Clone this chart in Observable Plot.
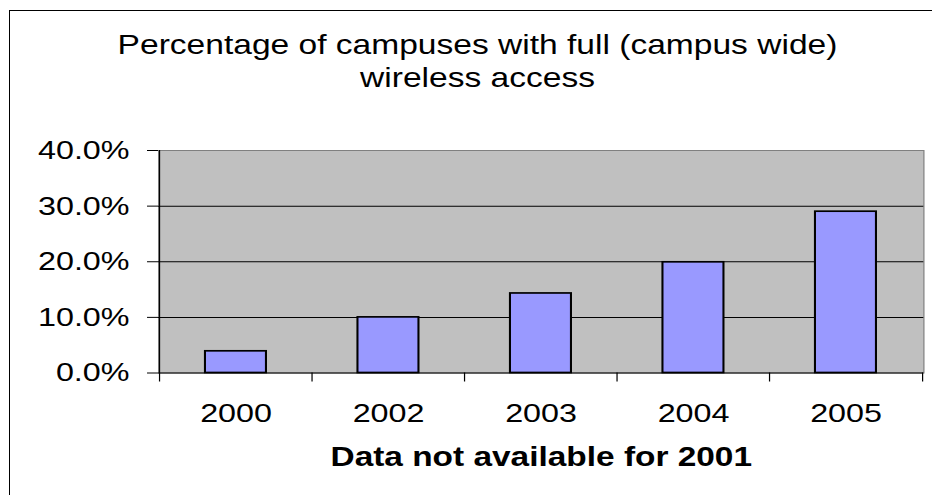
<!DOCTYPE html>
<html><head><meta charset="utf-8">
<script src="https://cdn.jsdelivr.net/npm/d3@7"></script>
<script src="https://cdn.jsdelivr.net/npm/@observablehq/plot@0.6"></script>
<style>
html,body{margin:0;padding:0;background:#fff;overflow:hidden;width:932px;height:495px}
#wrap{position:relative;width:932px;height:495px;font-family:"Liberation Sans",Arial,sans-serif}
#chart{position:absolute;left:0;top:0}
#border{position:absolute;left:9px;top:10px;width:1000px;height:1000px;border:1px solid #000;box-sizing:border-box;pointer-events:none}
#title{position:absolute;left:0;top:28px;width:955px;text-align:center;font-size:27.5px;line-height:33px;color:#000;transform:scaleX(1.22);transform-origin:477.5px 0;white-space:nowrap}
</style></head><body>
<div id="wrap"><div id="chart"></div><div id="border"></div><div id="title">Percentage of campuses with full (campus wide)<br>wireless access</div></div>
<script>
const years = ["2000", "2002", "2003", "2004", "2005"];
const values = [0.039, 0.100, 0.143, 0.199, 0.290];
const yTicks = [0, 0.1, 0.2, 0.3, 0.4];
const gridValues = [0.1, 0.2, 0.3];
const xLabel = "Data not available for 2001";

const S = 1.22, W = 932 / S, H = 495;
const mL = 158 / S, mR = (932 - 923.3) / S, mT = 150, mB = 122.5;
const step = (W - mL - mR) / years.length;
const data = years.map((year, i) => ({year, value: values[i]}));

const plot = Plot.plot({
  width: W, height: H,
  marginLeft: mL, marginRight: mR, marginTop: mT, marginBottom: mB,
  style: {fontFamily: "'Liberation Sans', Arial, sans-serif", fontSize: "26.5px", color: "#000", background: "none"},
  x: {type: "band", domain: years, paddingInner: 0.6, paddingOuter: 0.3, tickSize: 0, tickPadding: 30, label: null},
  y: {domain: [0, 0.4], ticks: yTicks, tickFormat: d3.format(".1%"), tickSize: 9, tickPadding: 14.8, label: null},
  marks: [
    Plot.frame({fill: "#C0C0C0", stroke: "#808080"}),
    Plot.ruleY(gridValues, {stroke: "#000", strokeWidth: 1}),
    Plot.barY(data, {x: "year", y: "value", fill: "#9999FF", stroke: "#000", strokeWidth: 1.7}),
    Plot.ruleY([0], {stroke: "#000"}),
    Plot.ruleX([years[0]], {dx: -step / 2, y1: 0.4, y2: 0, insetBottom: -9, stroke: "#000"}),
    Plot.ruleX(years.slice(1), {dx: -step / 2, y1: 0, y2: 0, insetBottom: -9, stroke: "#000"}),
    Plot.ruleX([years[years.length - 1]], {dx: step / 2, y1: 0, y2: 0, insetBottom: -9, stroke: "#000"}),
    Plot.text([xLabel], {frameAnchor: "bottom", dy: 93, fontWeight: "bold", fontSize: 27.4})
  ]
});
plot.setAttribute("width", 932);
plot.setAttribute("height", 495);
plot.setAttribute("preserveAspectRatio", "none");
plot.style.width = "932px";
plot.style.height = "495px";
plot.style.maxWidth = "none";
document.getElementById("chart").appendChild(plot);
</script>
</body></html>
